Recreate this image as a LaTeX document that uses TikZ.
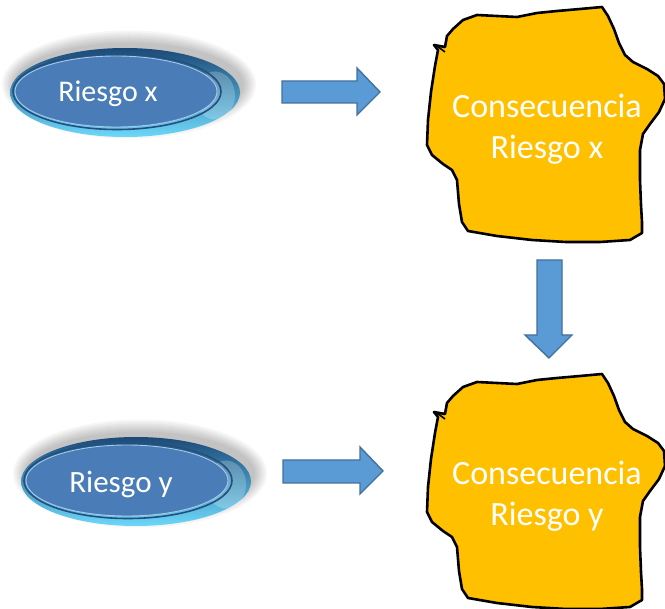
\documentclass[tikz,border=0pt]{standalone}
\usepackage{fontspec}
\setmainfont{Carlito}

\definecolor{blobfill}{HTML}{FFC000}
\definecolor{arrowfill}{HTML}{5B9BD5}
\definecolor{arrowline}{HTML}{41719C}
\definecolor{rimdark}{HTML}{1C4A78}
\definecolor{rimmid}{HTML}{3C8CC6}
\definecolor{rimlight}{HTML}{6CD8FA}
\definecolor{facefill}{HTML}{4A7DB8}
\definecolor{faceline}{HTML}{A5C8E8}
\definecolor{groove}{HTML}{24507E}

\tikzset{
  blob/.style={draw=black, line width=2.6pt, fill=blobfill, line join=round},
  blockarrow/.style={draw=arrowline, line width=1.4pt, fill=arrowfill, line join=miter},
  rim/.style={top color=rimdark, middle color=rimmid, bottom color=rimlight},
  face/.style={fill=facefill, draw=faceline, line width=0.9pt},
  btnlabel/.style={text=white, anchor=base, inner sep=0pt},
  blobtext/.style={text=white, font=\fontsize{34}{41}\selectfont, align=center},
  % irregular outline of a consequence region, in pixel-like units
  blobshape/.pic={
    \draw[blob] (438,50) -- (434,45) -- (445,47) -- (447,36) -- (453,29) -- (463,20)
      -- (477,15) -- (497,16) -- (517,17) -- (537,13) -- (557,11) -- (580,9) -- (602,7)
      -- (608,16) -- (614,29) -- (619,43) -- (625,55) -- (633,62) -- (647,69)
      -- (658,76) -- (664,84) -- (665,99) -- (659,112) -- (650,124) -- (643,134)
      -- (640,150) -- (640,180) -- (641,205) -- (642,222) -- (642,233) -- (630,240)
      -- (600,242) -- (566,242) -- (532,240) -- (497,236) -- (468,231) -- (462,222)
      -- (459,204) -- (457,180) -- (452,170) -- (443,164) -- (432,155) -- (427,145)
      -- (428,120) -- (431,92) -- (435,66) -- cycle;
    \draw[black, line width=1.6pt] (437,46) -- (445,52);
  },
  % bevelled oval button with a soft grey haze behind it
  button/.pic={
    \foreach \r in {14,12,...,2}
      \fill[black, opacity=0.035] (4,-8) ellipse [x radius=113+\r, y radius=40+\r];
    \shade[rim] (0,0) ellipse [x radius=115, y radius=44.5];
    \fill[white, opacity=0.22] (90,3) ellipse [x radius=20, y radius=24];
    \draw[groove, line width=1.6pt] (-8,-1) ellipse [x radius=104, y radius=38];
    \path[face] (-9,-1) ellipse [x radius=101, y radius=35.5];
  }
}

\begin{document}
\begin{tikzpicture}[x=1pt, y=-1pt]
  \useasboundingbox[fill=white] (0,0) rectangle (665,609);

  % risk buttons
  \pic at (125,92.5) {button};
  \node[btnlabel, font=\fontsize{30}{36}\selectfont] (rx) at (108,102) {Riesgo x};

  \pic at (136,481.5) {button};
  \node[btnlabel, font=\fontsize{31}{37}\selectfont] (ry) at (121,493) {Riesgo y};

  % consequence regions
  \pic at (0,0) {blobshape};
  \node[blobtext] (cx) at (547,129) {Consecuencia\\Riesgo x};

  \pic at (0,367) {blobshape};
  \node[blobtext] (cy) at (547,496) {Consecuencia\\Riesgo y};

  % block arrows
  \draw[blockarrow] (282,81) -- (357,81) -- (357,68) -- (380,92) -- (357,115)
    -- (357,103) -- (282,103) -- cycle;
  \draw[blockarrow] (283,460) -- (360,460) -- (360,447) -- (383,471) -- (360,494)
    -- (360,483) -- (283,483) -- cycle;
  \draw[blockarrow] (537,260) -- (562,260) -- (562,335) -- (572,335) -- (549,358)
    -- (525,335) -- (537,335) -- cycle;
\end{tikzpicture}
\end{document}
